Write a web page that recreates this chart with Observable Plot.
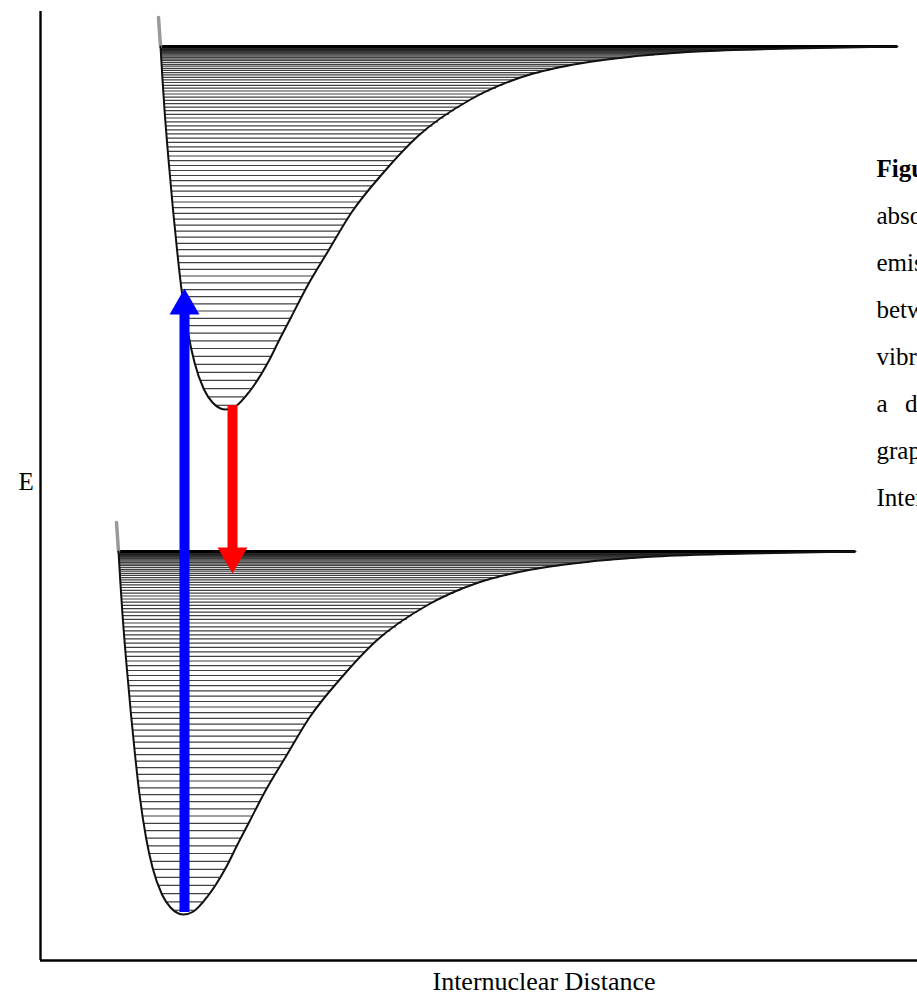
<!DOCTYPE html>
<html><head><meta charset="utf-8">
<script src="https://cdn.jsdelivr.net/npm/d3@7"></script>
<script src="https://cdn.jsdelivr.net/npm/@observablehq/plot@0.6"></script>
<style>html,body{margin:0;padding:0;background:#fff;overflow:hidden}</style>
</head><body><div id="chart"></div>
<script>
// Potential-well profile (distance and energy relative to the minimum)
const wellDr = [-0.67, -0.65, -0.63, -0.61, -0.57, -0.525, -0.485, -0.44, -0.375, -0.31, -0.215, -0.13, -0.05, 0, 0.10, 0.24, 0.43, 0.54, 0.66, 0.81, 1.03, 1.26, 1.58, 1.92, 2.45, 2.95, 3.48, 4.07, 4.72, 5.65, 6.72];
const wellDe = [3.92, 3.63, 3.30, 3.00, 2.50, 2.00, 1.60, 1.20, 0.77, 0.47, 0.20, 0.07, 0.01, 0, 0.03, 0.18, 0.48, 0.70, 0.93, 1.22, 1.59, 1.97, 2.37, 2.73, 3.10, 3.32, 3.45, 3.53, 3.58, 3.61, 3.63];
const wellDepth = 3.63;

// Vibrational levels (energy above the minimum)
const vibLevels = [0.042,0.126,0.209,0.291,0.372,0.452,0.532,0.610,0.687,0.763,
0.838,0.912,0.985,1.057,1.128,1.198,1.267,1.335,1.402,1.468,
1.533,1.598,1.661,1.723,1.784,1.844,1.903,1.961,2.018,2.075,
2.130,2.184,2.237,2.289,2.340,2.390,2.440,2.488,2.535,2.581,
2.626,2.671,2.714,2.756,2.797,2.837,2.877,2.915,2.952,2.988,
3.024,3.058,3.091,3.123,3.155,3.185,3.214,3.242,3.270,3.296,
3.321,3.346,3.369,3.391,3.412,3.433,3.452,3.470,3.488,3.504,
3.519,3.534,3.547,3.559,3.571,3.581,3.591,3.599,3.606,3.613,
3.618,3.622,3.626,3.628,3.630];

// Electronic states: position of the minimum
const stateNames = ["ground", "excited"];
const stateMinR = [1.43, 1.85];
const stateMinE = [0.46, 5.51];

// Transitions
const arrowNames = ["absorption", "emission"];
const arrowR = [1.44, 1.92];
const arrowFrom = [0.48, 5.55];
const arrowTo = [6.72, 3.87];
const arrowColors = ["#0000ff", "#ff0000"];

const xLabel = "Internuclear Distance";
const yLabel = "E";
const captionLines = [
  "Figure 1. Potential energy curves",
  "absorption (blue) and",
  "emission (red) of light",
  "between electronic and",
  "vibrational energy levels of",
  "a\u2002\u2009diatomic molecule,",
  "graphed as Energy vs.",
  "Internuclear Distance."
];

// ---- derived tables ----
const pts = wellDr.map((dr, i) => ({dr, de: wellDe[i]}));
const leftBranch = pts.filter(p => p.dr <= 0).sort((a, b) => a.de - b.de);
const rightBranch = pts.filter(p => p.dr >= 0).sort((a, b) => a.de - b.de);
function drAt(branch, e) {
  for (let i = 1; i < branch.length; i++) {
    const a = branch[i - 1], b = branch[i];
    if (e <= b.de) { const t = (e - a.de) / ((b.de - a.de) || 1); return a.dr + t * (b.dr - a.dr); }
  }
  return branch[branch.length - 1].dr;
}
const curveRows = [], tipRows = [], levelRows = [], asymRows = [];
stateNames.forEach((s, k) => {
  pts.forEach(p => {
    const row = {state: s, r: stateMinR[k] + p.dr, E: stateMinE[k] + p.de};
    if (p.de <= wellDepth) curveRows.push(row);
    if (p.de >= wellDepth && p.dr < 0) tipRows.push(row);
  });
  vibLevels.forEach(e => levelRows.push({state: s, E: stateMinE[k] + e,
    r1: stateMinR[k] + drAt(leftBranch, e), r2: stateMinR[k] + drAt(rightBranch, e)}));
  asymRows.push({state: s, E: stateMinE[k] + wellDepth,
    r1: stateMinR[k] + drAt(leftBranch, wellDepth), r2: stateMinR[k] + wellDr[wellDr.length - 1]});
});
const arrows = arrowNames.map((n, i) => ({name: n, r: arrowR[i], from: arrowFrom[i], to: arrowTo[i],
  color: arrowColors[i], dir: arrowTo[i] > arrowFrom[i] ? 1 : -1}));
const headOffset = 0.173;
const caption = captionLines.map((t, i) => ({t, i, bold: i === 0}));

const font = "'Liberation Serif', 'Times New Roman', serif";
const chart = Plot.plot({
  width: 917, height: 994,
  marginLeft: 40, marginRight: 0, marginTop: 11, marginBottom: 34,
  x: {domain: [0, 8.77], axis: null},
  y: {domain: [0, 9.49], axis: null},
  style: {fontFamily: font, background: "#fff"},
  marks: [
    Plot.ruleY(levelRows, {y: "E", x1: "r1", x2: "r2", stroke: "#000", strokeWidth: 1.2, strokeOpacity: 0.75}),
    Plot.ruleY(asymRows, {y: "E", x1: "r1", x2: "r2", stroke: "#000", strokeWidth: 3}),
    Plot.line(tipRows, {x: "r", y: "E", z: "state", stroke: "#999", strokeWidth: 3.5}),
    Plot.line(curveRows, {x: "r", y: "E", z: "state", stroke: "#111", strokeWidth: 2, curve: "monotone-x"}),
    Plot.ruleX([0], {stroke: "#000", strokeWidth: 2.4}),
    Plot.ruleY([0], {stroke: "#000", strokeWidth: 2.4}),
    Plot.ruleX(arrows, {x: "r", y1: "from", y2: d => d.to - d.dir * headOffset, stroke: "color", strokeWidth: 10}),
    Plot.dot(arrows, {x: "r", y: d => d.to - d.dir * headOffset, symbol: "triangle", r: 11.1,
      fill: "color", stroke: null, rotate: d => d.dir > 0 ? 0 : 180}),
    Plot.text([yLabel], {frameAnchor: "left", dx: -22, dy: -4, fontSize: 25, fill: "#000"}),
    Plot.text([xLabel], {frameAnchor: "bottom", dx: 65, dy: 29, fontSize: 26, fill: "#000"}),
    Plot.text(caption.filter(d => d.bold), {x: 8.36, y: d => (960 - 168 - d.i * 47) / 100, text: "t",
      textAnchor: "start", fontSize: 25, fontWeight: "bold", fill: "#000"}),
    Plot.text(caption.filter(d => !d.bold), {x: 8.36, y: d => (960 - 168 - d.i * 47) / 100, text: "t",
      textAnchor: "start", fontSize: 25, fill: "#000"})
  ]
});
document.getElementById("chart").appendChild(chart);
</script>
</body></html>
